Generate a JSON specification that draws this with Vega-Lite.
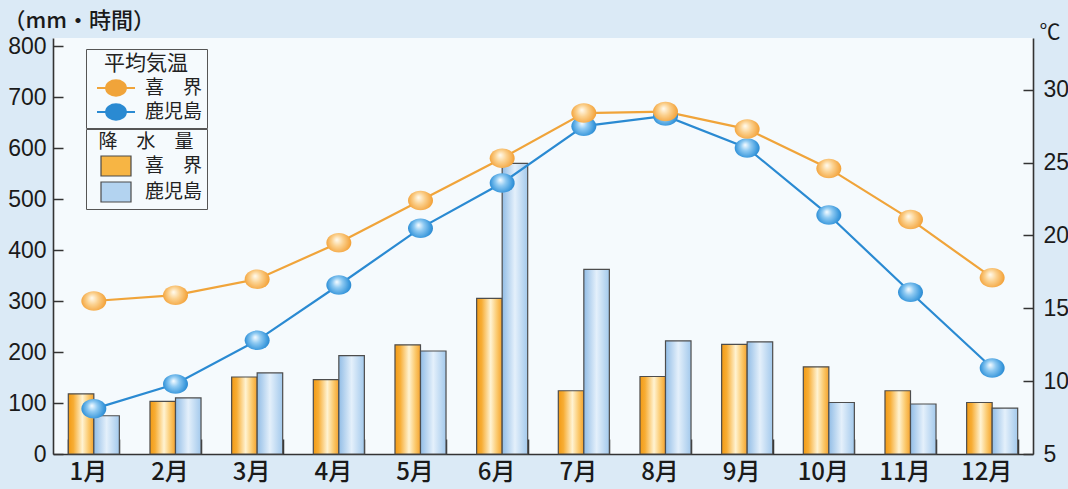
{
  "$schema": "https://vega.github.io/schema/vega-lite/v6.json",
  "width": 980,
  "height": 416,
  "autosize": {"type": "none"},
  "padding": {"left": 53, "top": 38, "right": 35, "bottom": 35},
  "background": "#dbeaf6",
  "config": {
    "view": {"fill": "#f5fafd", "stroke": null},
    "font": "Noto Sans CJK JP",
    "axis": {"grid": false, "domainColor": "#333333", "domainWidth": 1.6, "tickColor": "#333333", "tickWidth": 1.5, "labelColor": "#1a1a1a", "titleColor": "#1a1a1a"}
  },
  "datasets": {
    "precip": [
      {"month": "1月", "station": "喜界", "mm": 118}, {"month": "1月", "station": "鹿児島", "mm": 75},
      {"month": "2月", "station": "喜界", "mm": 103}, {"month": "2月", "station": "鹿児島", "mm": 110},
      {"month": "3月", "station": "喜界", "mm": 151}, {"month": "3月", "station": "鹿児島", "mm": 159},
      {"month": "4月", "station": "喜界", "mm": 146}, {"month": "4月", "station": "鹿児島", "mm": 193},
      {"month": "5月", "station": "喜界", "mm": 214}, {"month": "5月", "station": "鹿児島", "mm": 202},
      {"month": "6月", "station": "喜界", "mm": 305}, {"month": "6月", "station": "鹿児島", "mm": 570},
      {"month": "7月", "station": "喜界", "mm": 124}, {"month": "7月", "station": "鹿児島", "mm": 362},
      {"month": "8月", "station": "喜界", "mm": 152}, {"month": "8月", "station": "鹿児島", "mm": 222},
      {"month": "9月", "station": "喜界", "mm": 215}, {"month": "9月", "station": "鹿児島", "mm": 220},
      {"month": "10月", "station": "喜界", "mm": 171}, {"month": "10月", "station": "鹿児島", "mm": 101},
      {"month": "11月", "station": "喜界", "mm": 124}, {"month": "11月", "station": "鹿児島", "mm": 98},
      {"month": "12月", "station": "喜界", "mm": 101}, {"month": "12月", "station": "鹿児島", "mm": 90}
    ],
    "temp": [
      {"month": "1月", "site": "鹿児島", "c": 8.1}, {"month": "2月", "site": "鹿児島", "c": 9.8},
      {"month": "3月", "site": "鹿児島", "c": 12.8}, {"month": "4月", "site": "鹿児島", "c": 16.6},
      {"month": "5月", "site": "鹿児島", "c": 20.5}, {"month": "6月", "site": "鹿児島", "c": 23.6},
      {"month": "7月", "site": "鹿児島", "c": 27.5}, {"month": "8月", "site": "鹿児島", "c": 28.2},
      {"month": "9月", "site": "鹿児島", "c": 26.0}, {"month": "10月", "site": "鹿児島", "c": 21.4},
      {"month": "11月", "site": "鹿児島", "c": 16.1}, {"month": "12月", "site": "鹿児島", "c": 10.9},
      {"month": "1月", "site": "喜界", "c": 15.5}, {"month": "2月", "site": "喜界", "c": 15.9},
      {"month": "3月", "site": "喜界", "c": 17.0}, {"month": "4月", "site": "喜界", "c": 19.5},
      {"month": "5月", "site": "喜界", "c": 22.4}, {"month": "6月", "site": "喜界", "c": 25.3},
      {"month": "7月", "site": "喜界", "c": 28.4}, {"month": "8月", "site": "喜界", "c": 28.5},
      {"month": "9月", "site": "喜界", "c": 27.3}, {"month": "10月", "site": "喜界", "c": 24.6},
      {"month": "11月", "site": "喜界", "c": 21.1}, {"month": "12月", "site": "喜界", "c": 17.1}
    ]
  },
  "resolve": {"scale": {"y": "independent"}},
  "layer": [
    {
      "data": {"name": "precip"},
      "mark": {"type": "bar", "stroke": "#4d4d4d", "strokeWidth": 1.2},
      "encoding": {
        "x": {
          "field": "month", "type": "nominal",
          "scale": {"domain": ["1月","2月","3月","4月","5月","6月","7月","8月","9月","10月","11月","12月"], "paddingInner": 0.375, "paddingOuter": 0.1875},
          "axis": {"title": null, "labelAngle": 0, "labelFont": "Noto Sans CJK JP", "labelFontSize": 24, "labelFontWeight": 500, "labelOffset": -6, "tickBand": "extent", "tickSize": -15, "labelPadding": 21}
        },
        "xOffset": {"field": "station", "type": "nominal"},
        "y": {
          "field": "mm", "type": "quantitative",
          "scale": {"domain": [0, 815.7], "nice": false},
          "axis": {"orient": "left", "values": [0,100,200,300,400,500,600,700,800], "labelFont": "Liberation Sans", "labelFontSize": 23, "tickSize": -10, "labelPadding": 17,
            "title": "（mm・時間）", "titleFont": "Noto Sans CJK JP", "titleFontSize": 22, "titleFontWeight": 500, "titleAngle": 0, "titleAlign": "left", "titleBaseline": "middle", "titleX": -50, "titleY": -18}
        },
        "fill": {
          "condition": [
            {"test": "datum.station === '喜界'", "value": {"gradient": "linear", "x1": 0, "y1": 0, "x2": 1, "y2": 0, "stops": [{"offset": 0, "color": "#f29a14"}, {"offset": 0.2, "color": "#f7ad35"}, {"offset": 0.55, "color": "#fff3d2"}, {"offset": 0.8, "color": "#fbc86a"}, {"offset": 1, "color": "#f4a22c"}]}},
            {"test": "datum.station === '鹿児島'", "value": {"gradient": "linear", "x1": 0, "y1": 0, "x2": 1, "y2": 0, "stops": [{"offset": 0, "color": "#92bde6"}, {"offset": 0.5, "color": "#e4f0fb"}, {"offset": 1, "color": "#a3c9ec"}]}}
          ],
          "field": "station", "type": "nominal",
          "scale": {"range": ["#f7b544", "#b3d3f0"]},
          "legend": {
            "orient": "none", "legendX": 33, "legendY": 91, "padding": 4, "strokeColor": "#555555",
            "title": "降　水　量", "titleFont": "Noto Sans CJK JP", "titleFontSize": 19, "titleFontWeight": "normal", "titleColor": "#222222", "titleAnchor": "middle", "titleAlign": "center", "titlePadding": 3,
            "symbolType": "M-1.5,-1H1.5V1H-1.5Z", "symbolSize": 400, "symbolOffset": 15, "symbolStrokeColor": "#4a4a4a", "symbolStrokeWidth": 1.2,
            "labelFont": "Noto Sans CJK JP", "labelFontSize": 19, "labelColor": "#222222", "labelOffset": 18, "rowPadding": 0,
            "labelExpr": "datum.label === '喜界' ? '喜　界' : datum.label"
          }
        }
      }
    },
    {
      "data": {"name": "temp"},
      "encoding": {
        "x": {"field": "month", "type": "nominal", "scale": {"domain": ["1月","2月","3月","4月","5月","6月","7月","8月","9月","10月","11月","12月"]}},
        "y": {
          "field": "c", "type": "quantitative",
          "scale": {"domain": [5, 33.55], "nice": false, "zero": false},
          "axis": {"orient": "right", "values": [5,10,15,20,25,30], "labelFont": "Liberation Sans", "labelFontSize": 23, "tickSize": -10, "labelPadding": 20,
            "title": "℃", "titleFont": "Noto Sans CJK JP", "titleFontSize": 21, "titleFontWeight": "normal", "titleAngle": 0, "titleAlign": "left", "titleBaseline": "middle", "titleX": 6, "titleY": -6}
        }
      },
      "layer": [
        {
          "mark": {"type": "line", "strokeWidth": 2.2},
          "encoding": {
            "color": {"field": "site", "type": "nominal", "scale": {"range": ["#f0a43a", "#2a8ad2"]}}
          }
        },
        {
          "mark": {"type": "point", "filled": true, "opacity": 1, "shape": "M-1,0A1,0.78,0,1,1,1,0A1,0.78,0,1,1,-1,0Z", "size": 625},
          "encoding": {
            "color": {
              "condition": [
                {"test": "datum.site === '喜界'", "value": {"gradient": "radial", "x1": 0.42, "y1": 0.38, "r1": 0.02, "x2": 0.5, "y2": 0.5, "r2": 0.62, "stops": [{"offset": 0, "color": "#fff8e8"}, {"offset": 0.35, "color": "#fbd18f"}, {"offset": 0.75, "color": "#f4a742"}, {"offset": 1, "color": "#e98f1c"}]}},
                {"test": "datum.site === '鹿児島'", "value": {"gradient": "radial", "x1": 0.42, "y1": 0.38, "r1": 0.02, "x2": 0.5, "y2": 0.5, "r2": 0.62, "stops": [{"offset": 0, "color": "#eef8ff"}, {"offset": 0.3, "color": "#8fcaf2"}, {"offset": 0.7, "color": "#3a98dc"}, {"offset": 1, "color": "#1c74bd"}]}}
              ],
              "field": "site", "type": "nominal",
              "legend": {
                "orient": "none", "legendX": 33, "legendY": 11, "padding": 4, "strokeColor": "#555555",
                "title": "平均気温", "titleFont": "Noto Sans CJK JP", "titleFontSize": 21, "titleFontWeight": "normal", "titleColor": "#222222", "titleAnchor": "middle", "titleAlign": "center", "titlePadding": 3,
                "symbolType": "M-1.9,0H-1M1,0H1.9M-1,0A1,0.78,0,1,1,1,0A1,0.78,0,1,1,-1,0Z", "symbolSize": 400, "symbolOffset": 15, "symbolStrokeWidth": 1.8,
                "labelFont": "Noto Sans CJK JP", "labelFontSize": 19, "labelColor": "#222222", "labelOffset": 18, "rowPadding": 0,
                "labelExpr": "datum.label === '喜界' ? '喜　界' : datum.label"
              }
            }
          }
        }
      ]
    }
  ]
}
